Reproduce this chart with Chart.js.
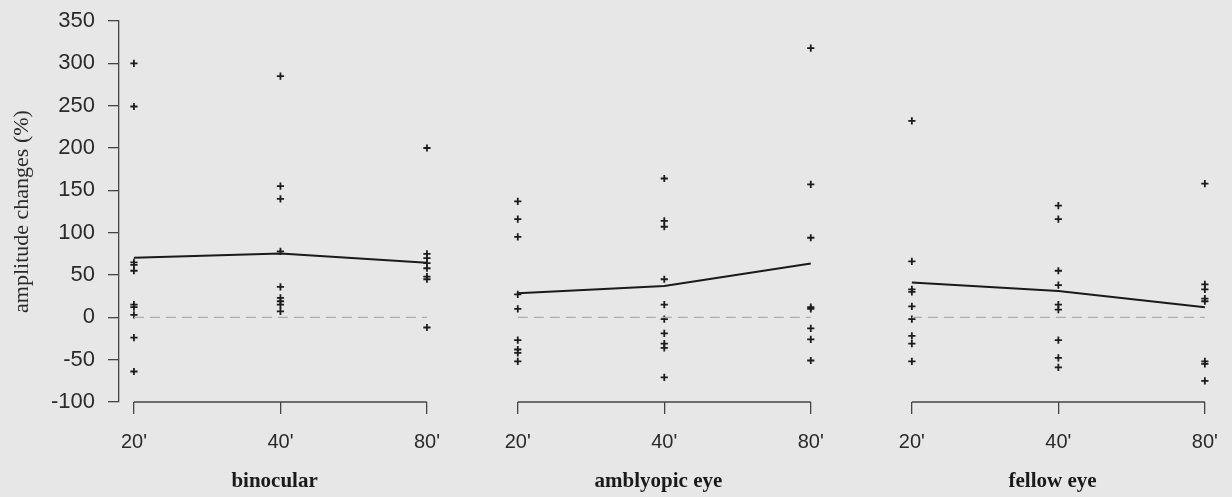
<!DOCTYPE html>
<html>
<head>
<meta charset="utf-8">
<script src="https://cdn.jsdelivr.net/npm/chart.js@4/dist/chart.umd.min.js"></script>
<style>
  html, body { margin: 0; padding: 0; background: #e7e7e7; }
  #wrap { width: 1232px; height: 497px; position: relative; }
</style>
</head>
<body>
<div id="wrap"><canvas id="amp"></canvas></div>
<script>
// data
const panels = ["binocular", "amblyopic eye", "fellow eye"];
const sizes = ["20'", "40'", "80'"];
const yTicks = [-100, -50, 0, 50, 100, 150, 200, 250, 300, 350];

const binocular = [
  [300, 249, 65, 62, 55, 15, 12, 3, -24, -64],
  [285, 155, 140, 78, 36, 23, 19, 15, 7],
  [200, 75, 70, 64, 58, 48, 45, -12]
];
const amblyopic = [
  [137, 116, 95, 27, 10, -27, -38, -42, -52],
  [164, 114, 107, 45, 15, -2, -19, -31, -36, -71],
  [318, 157, 94, 12, 10, -13, -26, -51]
];
const fellow = [
  [232, 66, 33, 30, 13, -2, -22, -31, -52],
  [132, 116, 55, 38, 15, 9, -27, -48, -59],
  [158, 39, 33, 22, 19, -52, -55, -75]
];
const binocularMean = [70.5, 75.5, 64.5];
const amblyopicMean = [28.5, 37, 63.5];
const fellowMean = [41, 31, 12];

// layout: where each panel starts on the shared x scale
const panelStart = [0, 2.62, 5.31];

const groups = [binocular, amblyopic, fellow];
const means = [binocularMean, amblyopicMean, fellowMean];

const datasets = [];
groups.forEach((g, p) => {
  // zero reference
  datasets.push({
    type: "line",
    data: [{ x: panelStart[p], y: 0 }, { x: panelStart[p] + 2, y: 0 }],
    borderColor: "#adadad",
    borderWidth: 1.3,
    borderDash: [10, 6],
    pointRadius: 0
  });
  // individual points
  const pts = [];
  g.forEach((vals, i) => vals.forEach(v => pts.push({ x: panelStart[p] + i, y: v })));
  datasets.push({
    type: "scatter",
    data: pts,
    pointStyle: "cross",
    pointRadius: 3.6,
    pointBorderWidth: 1.8,
    borderColor: "#1c1c1c",
    backgroundColor: "#1c1c1c"
  });
  // mean line
  datasets.push({
    type: "line",
    data: means[p].map((v, i) => ({ x: panelStart[p] + i, y: v })),
    borderColor: "#1a1a1a",
    borderWidth: 2,
    pointRadius: 0
  });
});

const tickPos = [];
panelStart.forEach(s => sizes.forEach((_, i) => tickPos.push(s + i)));

// split x axis + panel names
const panelAxes = {
  id: "panelAxes",
  afterDraw(chart) {
    const ctx = chart.ctx;
    const xs = chart.scales.x;
    const yb = chart.chartArea.bottom;
    ctx.save();
    ctx.strokeStyle = "#444";
    ctx.lineWidth = 1.3;
    panelStart.forEach((s, p) => {
      ctx.beginPath();
      ctx.moveTo(xs.getPixelForValue(s), yb);
      ctx.lineTo(xs.getPixelForValue(s + 2), yb);
      ctx.stroke();
      ctx.fillStyle = "#1a1a1a";
      ctx.font = "bold 21px 'Liberation Serif', 'Times New Roman', serif";
      ctx.textAlign = "center";
      ctx.textBaseline = "middle";
      ctx.fillText(panels[p], xs.getPixelForValue(s + 0.96), 482);
    });
    ctx.restore();
  }
};

new Chart(document.getElementById("amp"), {
  type: "scatter",
  data: { datasets },
  plugins: [panelAxes],
  options: {
    responsive: true,
    maintainAspectRatio: false,
    animation: false,
    layout: { padding: { top: 21, right: 10, left: 0, bottom: 0 } },
    plugins: { legend: { display: false }, tooltip: { enabled: false } },
    scales: {
      x: {
        type: "linear",
        min: -0.102,
        max: 7.427,
        afterBuildTicks: s => { s.ticks = tickPos.map(v => ({ value: v })); },
        afterFit: s => { s.height = 95; s.paddingLeft = 0; s.paddingRight = 0; },
        border: { display: false },
        grid: { drawOnChartArea: false, drawTicks: true, tickLength: 12, color: "#444", lineWidth: 1.3 },
        ticks: {
          autoSkip: false,
          maxRotation: 0,
          padding: 16,
          color: "#2a2a2a",
          font: { family: "'Liberation Sans', Arial, sans-serif", size: 20 },
          callback: (v, i) => sizes[i % 3]
        }
      },
      y: {
        min: -100,
        max: 350,
        afterBuildTicks: s => { s.ticks = yTicks.map(v => ({ value: v })); },
        afterFit: s => { s.width = 119; s.paddingTop = 0; s.paddingBottom = 0; },
        border: { display: true, color: "#444", width: 1.3 },
        grid: { drawOnChartArea: false, drawTicks: true, tickLength: 11, color: "#444", lineWidth: 1.3 },
        ticks: {
          padding: 13,
          color: "#2a2a2a",
          font: { family: "'Liberation Sans', Arial, sans-serif", size: 22 }
        },
        title: {
          display: true,
          text: "amplitude changes (%)",
          color: "#2a2a2a",
          padding: { top: 9, bottom: 0 },
          font: { family: "'Liberation Serif', 'Times New Roman', serif", size: 22 }
        }
      }
    }
  }
});
</script>
</body>
</html>
